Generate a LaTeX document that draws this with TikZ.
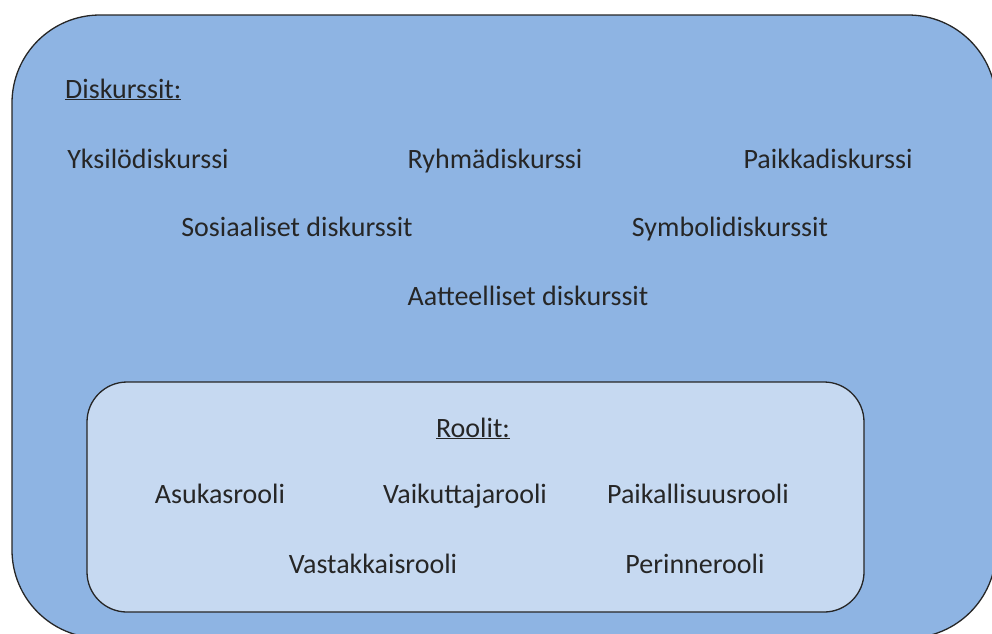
\documentclass[tikz,border=0pt]{standalone}
\usepackage{fontspec}
\setmainfont{Carlito}
\usepackage{xcolor}
\usetikzlibrary{positioning}

\begin{document}
\begin{tikzpicture}[x=1pt,y=-1pt]
      \definecolor{myouter}{HTML}{8EB4E3}
      \definecolor{myinner}{HTML}{C6D9F1}
      \tikzset{
        word/.style={font=\fontsize{28}{32}\selectfont,inner sep=0pt,anchor=base,text=black!85},
        box/.style={draw=black!85,line width=1.3pt}
      }

      \useasboundingbox (0,0) rectangle (992,633);

      % BOXES
      \draw[box,fill=myouter,rounded corners=88] (12,15) rectangle (996,638);
      \draw[box,fill=myinner,rounded corners=40] (87,382) rectangle (864,612);

      % DISCOURSES
      \node[word,anchor=base west] (disk) at (65,98) {\underline{Diskurssit:}};
      \node[word] (yksilo) at (148,168) {Yksilödiskurssi};
      \node[word] (ryhma) at (495,168) {Ryhmädiskurssi};
      \node[word] (paikka) at (828,168) {Paikkadiskurssi};
      \node[word] (sosiaali) at (297,236) {Sosiaaliset diskurssit};
      \node[word] (symboli) at (730,236) {Symbolidiskurssit};
      \node[word] (aate) at (528,305) {Aatteelliset diskurssit};

      % ROLES
      \node[word] (roolit) at (473,437) {\underline{Roolit:}};
      \node[word] (asukas) at (220,503) {Asukasrooli};
      \node[word] (vaikuttaja) at (465,503) {Vaikuttajarooli};
      \node[word] (paikallis) at (698,503) {Paikallisuusrooli};
      \node[word] (vastakkais) at (373,573) {Vastakkaisrooli};
      \node[word] (perinne) at (695,573) {Perinnerooli};

\end{tikzpicture}
\end{document}
